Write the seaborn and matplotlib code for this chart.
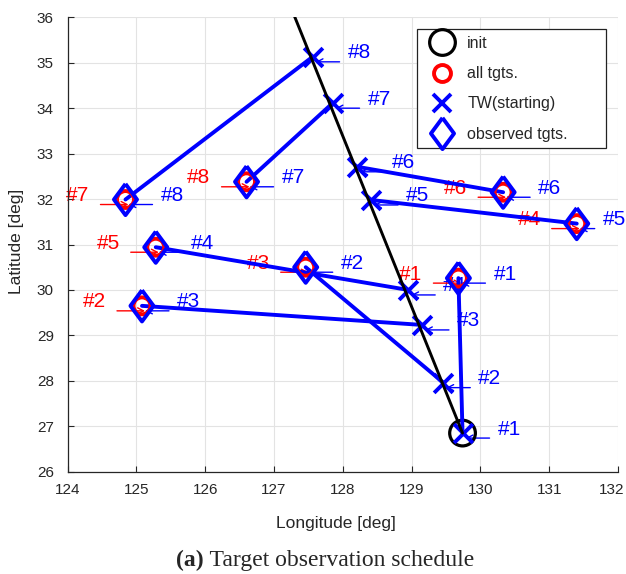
import numpy as np
import pandas as pd
import matplotlib
matplotlib.use("Agg")
import matplotlib.pyplot as plt
from matplotlib.transforms import offset_copy, ScaledTranslation
from matplotlib.lines import Line2D
import seaborn as sns

# Satellite ground track and initial position
track_lon = [129.74, 127.17]
track_lat = [26.85, 36.50]
init_lon = [129.74]
init_lat = [26.85]

# Targets, listed by target ID (#1 ... #8)
tgt_id = [1, 2, 3, 4, 5, 6, 7, 8]
tgt_lon = [129.68, 125.08, 127.46, 131.40, 125.28, 130.33, 124.84, 126.60]
tgt_lat = [30.26, 29.65, 30.50, 31.46, 30.94, 32.15, 31.99, 32.38]

# Observation sequence: target ID observed at step 1 ... 8
obs_seq = [1, 3, 2, 5, 4, 6, 8, 7]

# Start of each time window along the track (step 1 ... 8)
tw_lon = [129.74, 129.46, 129.15, 128.95, 128.41, 128.21, 127.85, 127.56]
tw_lat = [26.85, 27.96, 29.23, 30.00, 31.98, 32.71, 34.11, 35.13]

x_ticks = [124, 125, 126, 127, 128, 129, 130, 131, 132]
y_ticks = [26, 27, 28, 29, 30, 31, 32, 33, 34, 35, 36]

sns.set_theme(style="white")
plt.rcParams["font.family"] = ["Liberation Sans", "DejaVu Sans"]

W, H = 626, 574
fig = plt.figure(figsize=(W / 100, H / 100), dpi=100)
x0, x1, y0, y1 = 67.7, 618.0, 17.3, 471.7
ax = fig.add_axes([x0 / W, 1 - y1 / H, (x1 - x0) / W, (y1 - y0) / H])

BLUE = (0, 0, 1)
RED = (1, 0, 0)
DARK = "#262626"

# observed target positions in sequence order
obs_lon = [tgt_lon[tgt_id.index(k)] for k in obs_seq]
obs_lat = [tgt_lat[tgt_id.index(k)] for k in obs_seq]

# schedule segments: window start -> observed target
seg = pd.DataFrame({
    "lon": np.ravel(np.column_stack([tw_lon, obs_lon])),
    "lat": np.ravel(np.column_stack([tw_lat, obs_lat])),
    "step": np.repeat(np.arange(1, 9), 2),
})

sns.scatterplot(x=init_lon, y=init_lat, marker="o", s=18.5 ** 2,
                facecolor="none", edgecolor="black", linewidth=2.3,
                ax=ax, zorder=2, legend=False)
sns.lineplot(data=seg, x="lon", y="lat", units="step", estimator=None,
             sort=False, color=BLUE, lw=2.8, ax=ax, zorder=3, legend=False)
sns.scatterplot(x=tw_lon, y=tw_lat, marker="x", s=13.5 ** 2, color=BLUE,
                linewidth=2.8, ax=ax, zorder=3, legend=False)
sns.lineplot(x=track_lon, y=track_lat, sort=False, estimator=None,
             color="black", lw=2.1, ax=ax, zorder=4, legend=False)

diamond = [(0, 1), (0.74, 0), (0, -1), (-0.74, 0), (0, 1)]
sns.scatterplot(x=tgt_lon, y=tgt_lat, marker="o", s=12.2 ** 2,
                facecolor="none", edgecolor=RED, linewidth=2.8,
                ax=ax, zorder=5, legend=False)
sns.scatterplot(x=obs_lon, y=obs_lat, marker=diamond, s=22.5 ** 2,
                facecolor="none", edgecolor=BLUE, linewidth=2.8,
                ax=ax, zorder=5, legend=False)


def tag(x, y, text, color, side, gap=35):
    """Number label with a short leader arrow pointing at (x, y)."""
    if side == "right":
        tx, ha, tail, head = gap, "left", gap - 8, 3
    else:
        tx, ha, tail, head = -36, "right", -25, 3
    ax.annotate(text, xy=(x, y), xytext=(tx, 4), textcoords="offset pixels",
                ha=ha, va="center", color=color, fontsize=15, zorder=1.5)
    ax.annotate("", xy=(x, y), xytext=(x, y),
                xycoords=offset_copy(ax.transData, fig=fig, x=head, y=-5, units="dots"),
                textcoords=offset_copy(ax.transData, fig=fig, x=tail, y=-5, units="dots"),
                arrowprops=dict(arrowstyle="->,head_length=0.35,head_width=0.18",
                                lw=1.0, color=color, shrinkA=0, shrinkB=0),
                zorder=1.6)


for k, lo, la in zip(tgt_id, tgt_lon, tgt_lat):
    tag(lo, la, f"#{k}", RED, "left")
for i, (lo, la) in enumerate(zip(obs_lon, obs_lat), start=1):
    # keep labels near the right edge inside the figure
    px = x0 + (lo - 124) / 8 * (x1 - x0)
    gap = min(35, int(W - 23 - px))
    tag(lo, la, f"#{i}", BLUE, "right", gap=gap)
for i, (lo, la) in enumerate(zip(tw_lon, tw_lat), start=1):
    tag(lo, la, f"#{i}", BLUE, "right")

ax.set_xlim(124, 132)
ax.set_ylim(26, 36)
ax.set_xticks(x_ticks)
ax.set_yticks(y_ticks)
ax.set_axisbelow(True)
ax.grid(True, color="#e3e3e3", lw=0.8)
for s in ("top", "right"):
    ax.spines[s].set_visible(False)
for s in ("left", "bottom"):
    ax.spines[s].set_color(DARK)
    ax.spines[s].set_linewidth(0.9)
ax.tick_params(axis="both", direction="in", length=4, width=0.8,
               colors=DARK, labelsize=11, left=True, bottom=True)
ax.tick_params(axis="y", pad=10)
ax.tick_params(axis="x", pad=8)

# nudge the last longitude label so it stays inside the figure
last = ax.get_xticklabels()[-1]
last.set_transform(last.get_transform() + ScaledTranslation(-6 / 100, 0, fig.dpi_scale_trans))

ax.set_xlabel("Longitude [deg]", fontsize=12.5, color=DARK)
ax.set_ylabel("Latitude [deg]", fontsize=12.5, color=DARK)
ax.xaxis.set_label_coords(0.488, -0.098)
ax.yaxis.set_label_coords(-0.079, 0.506)

handles = [
    Line2D([], [], ls="none", marker="o", ms=18.5, mfc="none", mec="black", mew=2.3),
    Line2D([], [], ls="none", marker="o", ms=12.2, mfc="none", mec=RED, mew=2.8),
    Line2D([], [], ls="none", marker="x", ms=13.5, mec=BLUE, mew=2.8),
    Line2D([], [], ls="none", marker=diamond, ms=22.5, mfc="none", mec=BLUE, mew=2.8),
]
labels = ["init", "all tgts.", "TW(starting)", "observed tgts."]
bx0 = (416.7 - x0) / (x1 - x0)
bx1 = (606 - x0) / (x1 - x0)
by1 = (y1 - 29.3) / (y1 - y0)
leg = ax.legend(handles, labels, loc="upper left",
                bbox_to_anchor=(bx0, by1, bx1 - bx0, 0.0), mode="expand",
                borderaxespad=0, fontsize=11.5, frameon=True, fancybox=False,
                framealpha=1, edgecolor="#222222", borderpad=0.42,
                labelspacing=0.95, handlelength=2.3, handletextpad=0.45)
leg.get_frame().set_linewidth(0.9)
leg.set_zorder(10)

cap = fig.text(176 / W, (H - 566) / H, "(a)", fontsize=17, fontweight="bold",
               family=["Liberation Serif", "DejaVu Serif"], ha="left", va="baseline")
fig.canvas.draw()
fig.text(cap.get_window_extent().x1 / W, (H - 566) / H, " Target observation schedule",
         fontsize=17, family=["Liberation Serif", "DejaVu Serif"],
         ha="left", va="baseline")

fig.savefig("out.png", dpi=100)
